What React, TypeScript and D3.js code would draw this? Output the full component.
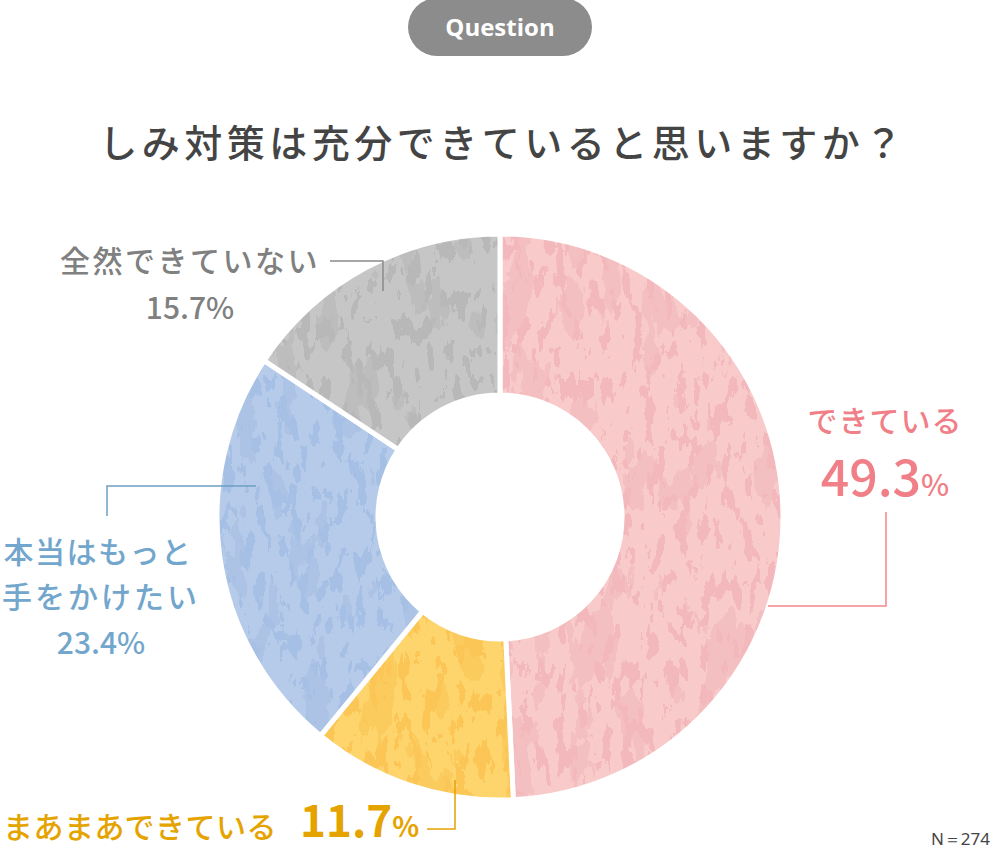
import React from "react";
import * as d3 from "d3";

const categories = ["できている", "まあまあできている", "本当はもっと手をかけたい", "全然できていない"];
const values = [49.3, 11.7, 23.4, 15.7];
const fills = ["#f8caca", "#fed46d", "#b6cbea", "#c6c6c6"];
const patchFills = ["#f3b8bb", "#fbc655", "#a6bfe4", "#b8b8b8"];
const title = "しみ対策は充分できていると思いますか？";
const sampleLabel = "N=274";

const W = 1000;
const H = 850;
const cx = 500;
const cy = 517;
const rOuter = 283;
const rInner = 122;

export default function App() {
  const pie = d3.pie<number>().sort(null).value((d) => d)(values);
  const arc = d3.arc<d3.PieArcDatum<number>>().innerRadius(rInner).outerRadius(rOuter);
  const fmt = (v: number) => v.toFixed(1);
  const jp = "'Noto Sans CJK JP', 'Noto Sans', sans-serif";

  return (
    <svg width={W} height={H} style={{ position: "absolute", left: 0, top: 0 }}>
      <defs>
        <filter id="grunge" x="-10%" y="-10%" width="120%" height="120%">
          <feTurbulence type="fractalNoise" baseFrequency="0.09 0.035" numOctaves="4" seed="7" result="noise" />
          <feColorMatrix in="noise" type="matrix" values="0 0 0 0 0  0 0 0 0 0  0 0 0 0 0  2.4 0 0 0 -0.7" result="a" />
          <feComponentTransfer in="a" result="th">
            <feFuncA type="discrete" tableValues="0 0 0 0 0 1 1" />
          </feComponentTransfer>
          <feComposite in="SourceGraphic" in2="th" operator="in" />
        </filter>
        <filter id="grunge2" x="-10%" y="-10%" width="120%" height="120%">
          <feTurbulence type="fractalNoise" baseFrequency="0.03 0.012" numOctaves="5" seed="3" result="noise" />
          <feColorMatrix in="noise" type="matrix" values="0 0 0 0 0  0 0 0 0 0  0 0 0 0 0  0 2.6 0 0 -0.85" result="a" />
          <feComponentTransfer in="a" result="th">
            <feFuncA type="discrete" tableValues="0 0 0 0 0 1 1" />
          </feComponentTransfer>
          <feComposite in="SourceGraphic" in2="th" operator="in" />
        </filter>
      </defs>
      <rect width={W} height={H} fill="#ffffff" />

      {/* Question pill */}
      <rect x={408} y={-2} width={184} height={58} rx={29} fill="#8c8c8c" />
      <text x={500} y={36} textAnchor="middle" fill="#ffffff" fontFamily="'Open Sans', 'Noto Sans', sans-serif" fontWeight={700} fontSize={24}>
        Question
      </text>

      {/* Title */}
      <text x={503} y={157} textAnchor="middle" fill="#444444" fontFamily={jp} fontWeight={500} fontSize={38} letterSpacing={4.5}>
        {title}
      </text>

      {/* Donut */}
      <g transform={`translate(${cx},${cy})`}>
        {pie.map((d, i) => (
          <g key={categories[i]}>
            <path d={arc(d) || ""} fill={fills[i]} />
            <path d={arc(d) || ""} fill={patchFills[i]} filter="url(#grunge)" />
            <path d={arc(d) || ""} fill={patchFills[i]} opacity={0.6} filter="url(#grunge2)" />
            <path d={arc(d) || ""} fill="none" stroke="#ffffff" strokeWidth={5} strokeLinejoin="miter" />
          </g>
        ))}
      </g>

      {/* Leader lines */}
      <g fill="none" strokeWidth={1.5}>
        <polyline points="886,512 886,606 768,606" stroke="#f3858d" />
        <polyline points="107,516 107,486 256,486" stroke="#6e9fc4" />
        <polyline points="427,829 455,829 455,780" stroke="#e5a300" />
        <polyline points="330,261 383,261 383,291" stroke="#8a8a8a" />
      </g>

      {/* Labels */}
      <g fontFamily={jp} fontWeight={500}>
        <text x={885} y={432} textAnchor="middle" fill="#f07f88" fontSize={30} letterSpacing={1}>
          {categories[0]}
        </text>
        <text x={885} y={496} textAnchor="middle" fill="#f07f88">
          <tspan fontSize={50}>{fmt(values[0])}</tspan>
          <tspan fontSize={30}>%</tspan>
        </text>

        <text x={190} y={272} textAnchor="middle" fill="#808080" fontSize={30} letterSpacing={2.5}>
          {categories[3]}
        </text>
        <text x={190} y={319} textAnchor="middle" fill="#808080" fontSize={30}>
          {fmt(values[3])}%
        </text>

        <text x={98} y={563} textAnchor="middle" fill="#72a6cc" fontSize={30} letterSpacing={1.5}>
          本当はもっと
        </text>
        <text x={101} y={608} textAnchor="middle" fill="#72a6cc" fontSize={30} letterSpacing={3}>
          手をかけたい
        </text>
        <text x={101} y={654} textAnchor="middle" fill="#72a6cc" fontSize={30}>
          {fmt(values[2])}%
        </text>

        <text x={3} y={838} fill="#e5a300" fontSize={30} letterSpacing={0.5}>
          {categories[1]}
        </text>
        <text x={300} y={837} fill="#e5a300" fontWeight={700}>
          <tspan fontSize={44}>{fmt(values[1])}</tspan>
          <tspan fontSize={28}>%</tspan>
        </text>
      </g>

      <text x={990} y={845} textAnchor="end" fill="#444444" fontFamily="'Noto Sans', sans-serif" fontSize={17}>
        {sampleLabel.replace("=", "＝")}
      </text>
    </svg>
  );
}
